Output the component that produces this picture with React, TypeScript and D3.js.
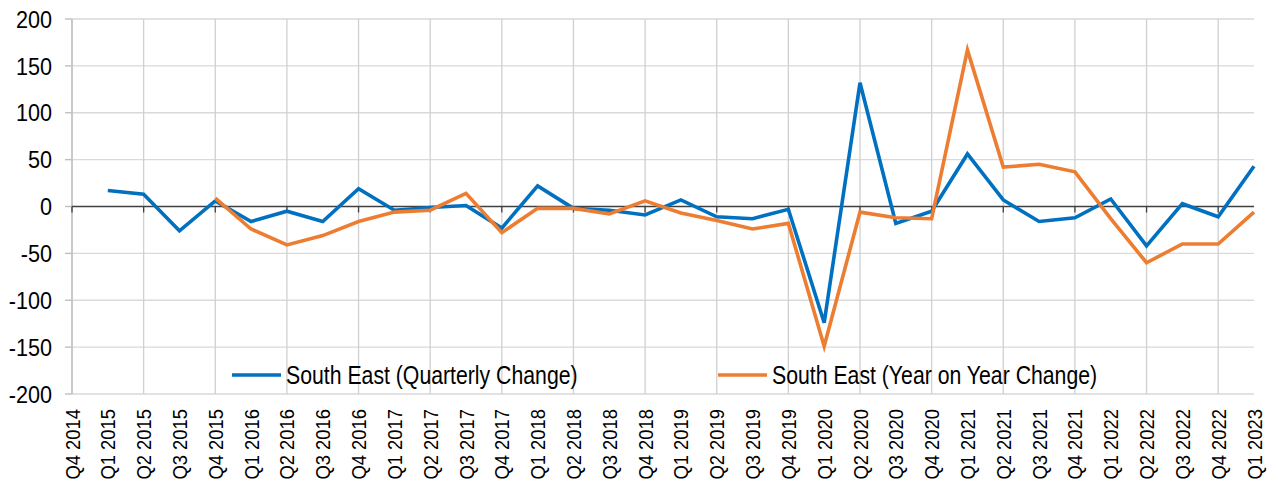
import React from 'react'
import * as d3 from 'd3'

const quarters = ['Q4 2014', 'Q1 2015', 'Q2 2015', 'Q3 2015', 'Q4 2015', 'Q1 2016', 'Q2 2016', 'Q3 2016', 'Q4 2016',
	'Q1 2017', 'Q2 2017', 'Q3 2017', 'Q4 2017', 'Q1 2018', 'Q2 2018', 'Q3 2018', 'Q4 2018',
	'Q1 2019', 'Q2 2019', 'Q3 2019', 'Q4 2019', 'Q1 2020', 'Q2 2020', 'Q3 2020', 'Q4 2020',
	'Q1 2021', 'Q2 2021', 'Q3 2021', 'Q4 2021', 'Q1 2022', 'Q2 2022', 'Q3 2022', 'Q4 2022', 'Q1 2023']

const quarterly = [null, 17, 13, -26, 6, -16, -5, -16, 19,
	-4, -1, 1, -23, 22, -2, -4, -9,
	7, -11, -13, -3, -124, 132, -18, -5,
	56, 7, -16, -12, 8, -42, 3, -11, 43]

const yearOnYear = [null, null, null, null, 9, -24, -41, -31, -16,
	-6, -4, 14, -28, -2, -2, -8, 6,
	-7, -15, -24, -18, -149, -6, -12, -13,
	167, 42, 45, 37, -13, -60, -40, -40, -6]

const yTicks = [-200, -150, -100, -50, 0, 50, 100, 150, 200]

const seriesNames = ['South East (Quarterly Change)', 'South East (Year on Year Change)']
const seriesColors = ['#0070C0', '#ED7D31']

const layout = {width: 1270, height: 481, left: 72, right: 1254, top: 19, bottom: 394}
const font = '"Liberation Sans", Arial, sans-serif'

export default function App() {
	const x = d3.scalePoint<string>().domain(quarters).range([layout.left, layout.right])
	const y = d3.scaleLinear().domain([-200, 200]).range([layout.bottom, layout.top])

	const line = d3.line<number | null>()
		.defined(d => d !== null)
		.x((d, i) => x(quarters[i]) as number)
		.y(d => y(d as number))

	// gridlines only on every other quarter
	const gridX = quarters.filter((q, i) => i % 2 === 0)

	return (
		<svg width={layout.width} height={layout.height} style={{position: 'absolute', left: 0, top: 0, background: '#fff'}}>
			{yTicks.filter(t => t !== 0).map(t => (
				<line key={'h' + t} x1={layout.left} x2={layout.right} y1={y(t)} y2={y(t)} stroke="#d9d9d9" strokeWidth={1.4} />
			))}
			{gridX.map(q => (
				<line key={'v' + q} x1={x(q)} x2={x(q)} y1={layout.top} y2={layout.bottom} stroke="#d0d0d0" strokeWidth={1.3} />
			))}
			<line x1={layout.left} x2={layout.left} y1={layout.top} y2={layout.bottom} stroke="#bfbfbf" strokeWidth={1.4} />
			{yTicks.map(t => (
				<g key={'yt' + t}>
					<line x1={layout.left - 7} x2={layout.left} y1={y(t)} y2={y(t)} stroke="#bfbfbf" strokeWidth={1.4} />
					<text transform={`translate(52,${y(t)}) scale(0.9,1)`} dy="0.36em" textAnchor="end"
						fontFamily={font} fontSize={24} fill="#000">{t}</text>
				</g>
			))}
			<line x1={layout.left} x2={layout.right} y1={y(0)} y2={y(0)} stroke="#404040" strokeWidth={1.3} />
			{gridX.map(q => (
				<line key={'zt' + q} x1={x(q)} x2={x(q)} y1={y(0)} y2={y(0) + 6} stroke="#404040" strokeWidth={1.3} />
			))}
			{quarters.map(q => (
				<text key={'xl' + q} transform={`translate(${x(q)},409) rotate(-90) scale(0.92,1.05)`} dy="0.36em" textAnchor="end"
					fontFamily={font} fontSize={20} fill="#000">{q}</text>
			))}
			{[quarterly, yearOnYear].map((s, i) => (
				<path key={'s' + i} d={line(s) || ''} fill="none" stroke={seriesColors[i]} strokeWidth={3.6} />
			))}
			{seriesNames.map((name, i) => {
				const lx = i === 0 ? 232 : 718
				return (
					<g key={'lg' + i}>
						<line x1={lx} x2={lx + 49} y1={375} y2={375} stroke={seriesColors[i]} strokeWidth={3.6} />
						<text transform={`translate(${lx + 54},375) scale(0.85,1)`} dy="0.36em"
							fontFamily={font} fontSize={25} fill="#000">{name}</text>
					</g>
				)
			})}
		</svg>
	)
}
